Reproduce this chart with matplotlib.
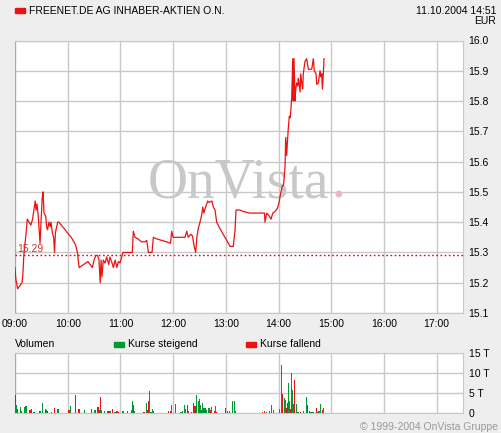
import matplotlib
matplotlib.use("Agg")
import matplotlib.pyplot as plt

plt.rcParams['font.family'] = ['Liberation Sans', 'DejaVu Sans']

# intraday prices, minutes after 09:00
price_min = [0, 1, 3, 8, 9, 10, 12.5, 14, 16, 18, 20, 21, 23, 24, 25, 26.5, 28.5, 29.6,
             31, 32, 33, 35, 36, 37, 38.7, 40, 41, 42.5, 44, 45, 46, 48.6, 50, 57, 61, 64,
             66, 69, 71, 72, 73, 78, 83, 88, 90, 92, 94, 95.6, 97, 98, 99, 100.5, 102.5,
             104.4, 106.7, 108, 110, 112, 114, 116, 117.6, 119.5, 121.5, 123, 127, 133.5,
             134.7, 136.6, 140, 144, 148, 150, 151.8, 156, 157.5, 161, 167, 172.7, 177,
             178.4, 180, 193.5, 195.5, 197.3, 200, 202, 204, 205.7, 207, 208.7, 210.6,
             212.6, 213.7, 215, 217, 219.4, 221, 224, 225.8, 227.7, 229.6, 233, 237, 241,
             244.8, 248.5, 250.5, 251.6, 256, 260, 267.5, 279, 284, 284.6, 286.5, 289.5,
             291.5, 293.4, 296, 298.6, 300.6, 301.7, 303.6, 304.3, 305.5, 306.6, 307.4,
             308.2, 309.3, 310, 311, 312.3, 313.4, 314.2, 315, 316.2, 316.8, 317.6, 318.8,
             319.6, 320.7, 321.9, 322.5, 323.3, 324.5, 325.3, 326.4, 327.5, 328.2, 330,
             332, 334, 337.8, 339.6, 340.7, 342.7, 343.5, 345.3, 347.2, 348.4, 349.2,
             349.9, 351, 351.8]
price_val = [15.25, 15.21, 15.18, 15.20, 15.23, 15.29, 15.36, 15.41, 15.40, 15.39, 15.41,
             15.43, 15.47, 15.44, 15.46, 15.42, 15.33, 15.40, 15.48, 15.50, 15.43, 15.42,
             15.385, 15.375, 15.40, 15.385, 15.40, 15.365, 15.35, 15.30, 15.365, 15.40,
             15.40, 15.375, 15.36, 15.35, 15.34, 15.325, 15.30, 15.275, 15.25, 15.26,
             15.27, 15.25, 15.275, 15.29, 15.29, 15.275, 15.20, 15.275, 15.22, 15.275,
             15.265, 15.285, 15.26, 15.285, 15.27, 15.25, 15.275, 15.25, 15.27, 15.265,
             15.285, 15.30, 15.30, 15.30, 15.37, 15.35, 15.345, 15.335, 15.335, 15.34,
             15.30, 15.30, 15.35, 15.345, 15.34, 15.335, 15.33, 15.37, 15.35, 15.35,
             15.37, 15.35, 15.36, 15.355, 15.32, 15.30, 15.35, 15.38, 15.40, 15.425,
             15.45, 15.43, 15.45, 15.47, 15.465, 15.47, 15.45, 15.44, 15.40, 15.38,
             15.36, 15.34, 15.32, 15.32, 15.375, 15.44, 15.44, 15.435, 15.43, 15.43,
             15.43, 15.40, 15.43, 15.42, 15.41, 15.43, 15.435, 15.445, 15.465, 15.485,
             15.51, 15.52, 15.52, 15.55, 15.585, 15.68, 15.62, 15.66, 15.705, 15.75,
             15.745, 15.78, 15.81, 15.94, 15.80, 15.94, 15.80, 15.84, 15.86, 15.85,
             15.875, 15.86, 15.83, 15.89, 15.86, 15.84, 15.89, 15.93, 15.94, 15.905,
             15.905, 15.94, 15.90, 15.89, 15.855, 15.86, 15.90, 15.88, 15.89, 15.84,
             15.89, 15.94]
prev_close = 15.29

# volume in thousands, minutes after 09:00, rising (1) / falling (0)
vol_min = [0, 1, 2.5, 6, 7, 10.6, 11.7, 12.7, 17, 19, 21.6, 27.7, 29, 31, 34.5, 36, 37,
           41.3, 44.8, 49, 61.5, 63, 68.7, 73, 79, 87, 91, 94, 95, 96, 97, 98, 101.7,
           106, 108, 110.8, 113, 114, 116, 117.6, 123, 128, 133, 133.6, 134.7, 136, 146,
           147, 149.5, 150.6, 151.8, 153, 155, 156.3, 157.5, 174.6, 177, 178, 182.5,
           189, 190.5, 192.8, 194, 196, 197, 200.7, 203, 205, 206.4, 208.7, 210, 211,
           212, 213.3, 214.4, 215.6, 216.7, 218, 221, 222.3, 223.4, 227, 228.3, 229.5,
           239.5, 241.8, 244, 247.4, 250, 251, 281.5, 284, 286, 289.5, 291.8, 294, 301,
           303, 304.3, 306.6, 307.7, 308.9, 310, 311, 312.3, 313.4, 314.6, 315.7, 316.8,
           318, 320.3, 321.4, 322.5, 324.8, 328.2, 331.6, 332.7, 335, 337, 338, 339.3,
           343, 345, 346, 347.6, 350, 351]
vol_val = [4.6, 2.1, 1.1, 1.5, 0.6, 1.6, 1.7, 1.8, 0.8, 1.1, 0.3, 0.6, 0.4, 2.6, 1.1, 0.8,
           0.6, 0.3, 1.3, 1.1, 0.8, 1.8, 4.6, 1.1, 0.8, 1.1, 0.8, 1.6, 1.6, 0.7, 4.1, 0.7,
           0.6, 0.6, 0.6, 1.1, 0.3, 0.3, 0.6, 0.3, 0.6, 0.6, 0.8, 2.9, 2.1, 0.6, 0.3, 0.3,
           2.6, 0.8, 2.9, 5.6, 0.3, 1.1, 0.6, 0.6, 0.6, 2.1, 2.3, 0.3, 0.6, 2.1, 1.1, 2.1,
           0.6, 0.3, 2.6, 1.8, 4.6, 3.1, 3.5, 2.1, 0.8, 2.6, 1.3, 1.2, 1.2, 0.7, 1.3, 0.8,
           1.6, 0.6, 1.8, 0.3, 1.3, 0.6, 0.6, 3.1, 3.1, 0.6, 0.3, 0.6, 0.3, 0.6, 2.1, 0.8,
           1.1, 12.1, 4.8, 3.8, 3.3, 1.3, 2.5, 7.6, 3.1, 1.1, 10.1, 5.8, 2.3, 8.3, 2.3,
           0.3, 0.3, 0.3, 0.6, 4.1, 2.1, 0.6, 0.3, 0.3, 0.3, 1.3, 0.3, 0.6, 2.3, 0.8, 1.3]
vol_up = [0, 1, 0, 1, 1, 1, 1, 1, 0, 0, 1, 0, 1, 1, 0, 1, 0, 1, 0, 1, 0, 1, 0, 0, 1, 0,
          1, 0, 0, 1, 0, 1, 1, 0, 1, 0, 1, 1, 0, 0, 1, 1, 1, 1, 0, 1, 0, 0, 1, 0, 0, 1,
          1, 1, 1, 0, 0, 1, 1, 1, 1, 1, 1, 0, 0, 1, 0, 0, 1, 1, 1, 1, 0, 1, 1, 1, 0, 1,
          1, 0, 1, 0, 1, 0, 0, 1, 0, 1, 1, 1, 0, 0, 1, 0, 1, 1, 1, 1, 0, 1, 1, 0, 0, 1,
          1, 0, 1, 1, 1, 0, 1, 1, 1, 0, 1, 1, 0, 0, 1, 1, 1, 0, 1, 1, 1, 0, 1]

hour_labels = ['09:00', '10:00', '11:00', '12:00', '13:00', '14:00', '15:00', '16:00', '17:00']
price_ticks = [15.1, 15.2, 15.3, 15.4, 15.5, 15.6, 15.7, 15.8, 15.9, 16.0]
vol_ticks = [0, 5, 10, 15]
vol_labels = ['0', '5 T', '10 T', '15 T']

bg = '#eeeeee'
grid = '#c8c8c8'
red = '#ee1111'
green = '#009933'
W, H = 501, 433

fig = plt.figure(figsize=(W / 100, H / 100), dpi=100, facecolor=bg)

def box(l, t, r, b):
    return [l / W, 1 - b / H, (r - l) / W, (b - t) / H]

# price panel
ax = fig.add_axes(box(15, 40.5, 463, 313))
ax.set_facecolor('white')
ax.plot(price_min, price_val, color=red, lw=0.9, zorder=4)
ax.axhline(prev_close, color='#ee0000', lw=1.0, ls=(0, (1.2, 1.8)), zorder=3)
ax.text(3, prev_close + 0.005, '%.2f' % prev_close, color='#cc3333', fontsize=7.5,
        va='bottom', ha='left', zorder=5)
# watermark
ax.text(0.5, 0.425, 'OnVista', transform=ax.transAxes, fontsize=40,
        family='Liberation Serif', color='#c8c8c8', ha='center', va='baseline', zorder=2)
ax.text(0.706, 0.425, '.', transform=ax.transAxes, fontsize=40,
        family='Liberation Serif', color='#ecb8c0', ha='left', va='baseline', zorder=2)
ax.set_xlim(0, 510)
ax.set_ylim(15.1, 16.0)
ax.set_xticks(range(0, 510, 60))
ax.set_xticklabels(hour_labels)
ax.set_yticks(price_ticks)
ax.set_yticklabels(['%.1f' % v for v in price_ticks])
ax.yaxis.tick_right()
ax.tick_params(length=0, labelsize=7.5, colors='black')
ax.tick_params(axis='y', pad=4)
ax.tick_params(axis='x', pad=4)
ax.grid(True, color=grid, lw=1)
ax.set_axisbelow(True)
for s in ax.spines.values():
    s.set_color(grid)
ax.spines['left'].set_color('#aaaaaa')

# volume panel
vx = fig.add_axes(box(15, 353, 463, 413))
vx.set_facecolor('white')
vx.bar(vol_min, vol_val, width=1.5, color=[green if u else red for u in vol_up], zorder=3)
vx.set_xlim(0, 510)
vx.set_ylim(0, 15)
vx.set_xticks(range(0, 510, 60))
vx.set_xticklabels([])
vx.set_yticks(vol_ticks)
vx.set_yticklabels(vol_labels)
vx.yaxis.tick_right()
vx.tick_params(length=0, labelsize=7.5, pad=4)
vx.grid(True, color=grid, lw=1)
vx.set_axisbelow(True)
for s in vx.spines.values():
    s.set_color(grid)
vx.spines['left'].set_color('#aaaaaa')

# header / legends
fig.patches.append(plt.Rectangle((15 / W, 1 - 13 / H), 10 / W, 5 / H, color=red,
                                 transform=fig.transFigure, figure=fig))
fig.text(29 / W, 1 - 10.5 / H, 'FREENET.DE AG INHABER-AKTIEN O.N.', fontsize=7.5, va='center')
fig.text(496 / W, 1 - 10.5 / H, '11.10.2004 14:51', fontsize=7.5, va='center', ha='right')
fig.text(496 / W, 1 - 20.5 / H, 'EUR', fontsize=7.5, va='center', ha='right')

fig.text(15 / W, 1 - 344 / H, 'Volumen', fontsize=7.5, va='center')
fig.patches.append(plt.Rectangle((114 / W, 1 - 346.5 / H), 10 / W, 5 / H, color=green,
                                 transform=fig.transFigure, figure=fig))
fig.text(128 / W, 1 - 344 / H, 'Kurse steigend', fontsize=7.5, va='center')
fig.patches.append(plt.Rectangle((246 / W, 1 - 346.5 / H), 10 / W, 5 / H, color=red,
                                 transform=fig.transFigure, figure=fig))
fig.text(260 / W, 1 - 344 / H, 'Kurse fallend', fontsize=7.5, va='center')
fig.text(498 / W, 1 - 427 / H, '\u00a9 1999-2004 OnVista Gruppe', fontsize=7.5,
         va='center', ha='right', color='#999999')

fig.savefig('out.png', dpi=100, facecolor=bg)
